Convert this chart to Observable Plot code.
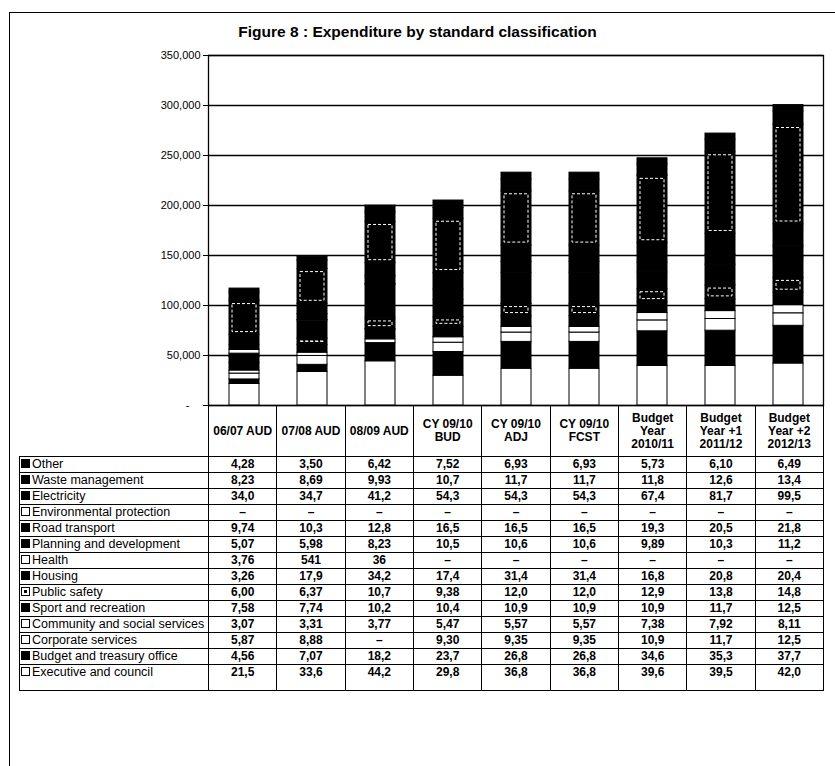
<!DOCTYPE html>
<html>
<head>
<meta charset="utf-8">
<script src="https://cdn.jsdelivr.net/npm/d3@7"></script>
<script src="https://cdn.jsdelivr.net/npm/@observablehq/plot@0.6"></script>
<style>
  html, body { margin: 0; padding: 0; background: #fff; }
  #page { position: relative; width: 835px; height: 766px; overflow: hidden; font-family: "Liberation Sans", Arial, sans-serif; color: #000; }
  .hline { position: absolute; background: #000; }
  #title { position: absolute; left: 0; width: 835px; top: 23px; text-align: center; font-weight: bold; font-size: 15.5px; line-height: 18px; }
  #chart { position: absolute; left: 0; top: 0; }
  #tbl { position: absolute; left: 19px; top: 405px; border-collapse: collapse; table-layout: fixed; font-size: 12px; }
  #tbl td { border: 1px solid #000; padding: 0; text-align: center; vertical-align: top; line-height: 15px; height: 15px; white-space: nowrap; overflow: hidden; font-weight: bold; }
  #tbl td.lab { text-align: left; padding-left: 1px; font-weight: normal; font-size: 12.5px; }
  #tbl tr.head td { height: 50px; vertical-align: middle; line-height: 13px; white-space: pre-line; font-weight: bold; }
  #tbl tr.head td.blank { border-top: none; border-left: none; border-bottom: 1px solid #000; }
  #tbl tr.last td { height: 25px; }
  .ico { display: inline-block; width: 7px; height: 7px; border: 1px solid #000; margin-right: 2px; vertical-align: 0px; box-sizing: content-box; position: relative; }
  .ico.dark { background: #000; }
  .ico.light { background: #fff; }
  .ico.pat { background: #fff; }
  .ico.pat::after { content: ""; position: absolute; left: 2px; top: 2px; width: 3px; height: 3px; background: #000; }
</style>
</head>
<body>
<div id="page">
  <div class="hline" style="left:9px; top:12px; width:826px; height:1px;"></div>
  <div class="hline" style="left:9px; top:12px; width:1px; height:754px;"></div>
  <div id="title">Figure 8 : Expenditure by standard classification</div>
  <div id="chart"></div>
</div>
<script>
// Periods (columns)
const periods = ["06/07 AUD", "07/08 AUD", "08/09 AUD", "CY 09/10\nBUD", "CY 09/10\nADJ", "CY 09/10\nFCST", "Budget\nYear\n2010/11", "Budget\nYear +1\n2011/12", "Budget\nYear +2\n2012/13"];

// Series names (table order, top of stack first)
const seriesNames = ["Other", "Waste management", "Electricity", "Environmental protection", "Road transport", "Planning and development", "Health", "Housing", "Public safety", "Sport and recreation", "Community and social services", "Corporate services", "Budget and treasury office", "Executive and council"];

// Values (R million), null = "–"
const other         = [4.28, 3.50, 6.42, 7.52, 6.93, 6.93, 5.73, 6.10, 6.49];
const waste         = [8.23, 8.69, 9.93, 10.7, 11.7, 11.7, 11.8, 12.6, 13.4];
const electricity   = [34.0, 34.7, 41.2, 54.3, 54.3, 54.3, 67.4, 81.7, 99.5];
const environmental = [null, null, null, null, null, null, null, null, null];
const road          = [9.74, 10.3, 12.8, 16.5, 16.5, 16.5, 19.3, 20.5, 21.8];
const planning      = [5.07, 5.98, 8.23, 10.5, 10.6, 10.6, 9.89, 10.3, 11.2];
const health        = [3.76, 0.541, 0.036, null, null, null, null, null, null];
const housing       = [3.26, 17.9, 34.2, 17.4, 31.4, 31.4, 16.8, 20.8, 20.4];
const publicSafety  = [6.00, 6.37, 10.7, 9.38, 12.0, 12.0, 12.9, 13.8, 14.8];
const sport         = [7.58, 7.74, 10.2, 10.4, 10.9, 10.9, 10.9, 11.7, 12.5];
const community     = [3.07, 3.31, 3.77, 5.47, 5.57, 5.57, 7.38, 7.92, 8.11];
const corporate     = [5.87, 8.88, null, 9.30, 9.35, 9.35, 10.9, 11.7, 12.5];
const budgetTreas   = [4.56, 7.07, 18.2, 23.7, 26.8, 26.8, 34.6, 35.3, 37.7];
const executive     = [21.5, 33.6, 44.2, 29.8, 36.8, 36.8, 39.6, 39.5, 42.0];

const seriesValues = [other, waste, electricity, environmental, road, planning, health, housing, publicSafety, sport, community, corporate, budgetTreas, executive];

// Swatch kind per series (same order)
const swatch = ["dark", "dark", "dark", "light", "dark", "dark", "light", "dark", "pat", "dark", "light", "light", "dark", "light"];
const dashedSeries = ["Electricity", "Public safety"];

// Y axis ticks
const yTicks = [0, 50000, 100000, 150000, 200000, 250000, 300000, 350000];

// Long-format rows, bottom of stack first
const rows = [];
for (let s = seriesNames.length - 1; s >= 0; --s) {
  periods.forEach((p, i) => {
    const v = seriesValues[s][i];
    if (v != null) rows.push({period: p, series: seriesNames[s], value: v * 1000});
  });
}

const fills = swatch.map(k => k === "light" ? "white" : "black");

const chart = Plot.plot({
  width: 835,
  height: 415,
  marginLeft: 208,
  marginRight: 12,
  marginTop: 55,
  marginBottom: 10,
  style: {fontFamily: "'Liberation Sans', Arial, sans-serif", color: "#000", background: "transparent"},
  x: {domain: periods, paddingInner: 0.56, paddingOuter: 0.28, axis: null},
  y: {domain: [0, 350000], axis: null},
  color: {domain: seriesNames, range: fills},
  marks: [
    Plot.gridY(yTicks, {stroke: "#000", strokeOpacity: 1, strokeWidth: 1.3}),
    Plot.axisY({ticks: yTicks, tickSize: 5, tickPadding: 3, fontSize: 11, label: null,
      tickFormat: d => d === 0 ? "-\u2002\u2002" : d3.format(",")(d), stroke: "#000"}),
    Plot.barY(rows, Plot.stackY({x: "period", y: "value", fill: "series", stroke: "#000", strokeWidth: 1, order: null})),
    Plot.barY(rows, Plot.filter(d => dashedSeries.includes(d.series),
      Plot.stackY({x: "period", y: "value", inset: 3, fill: "none", stroke: "#fff", strokeWidth: 1, strokeDasharray: "3,2", order: null}))),
    Plot.frame({stroke: "#000", strokeWidth: 1.3})
  ]
});
document.getElementById("chart").appendChild(chart);

// Data table below the chart
const fmt = v => v == null ? "\u2013" : (v < 1 ? String(Math.round(v * 1000)) : d3.format(".3r")(v).replace(".", ","));
const table = document.createElement("table");
table.id = "tbl";
const colgroup = document.createElement("colgroup");
const c0 = document.createElement("col"); c0.style.width = "189px"; colgroup.appendChild(c0);
periods.forEach(() => { const c = document.createElement("col"); c.style.width = (615 / periods.length) + "px"; colgroup.appendChild(c); });
table.appendChild(colgroup);
const head = document.createElement("tr"); head.className = "head";
const hb = document.createElement("td"); hb.className = "blank"; head.appendChild(hb);
periods.forEach(p => { const td = document.createElement("td"); td.textContent = p; head.appendChild(td); });
table.appendChild(head);
seriesNames.forEach((name, s) => {
  const tr = document.createElement("tr");
  if (s === seriesNames.length - 1) tr.className = "last";
  const lab = document.createElement("td"); lab.className = "lab";
  const ico = document.createElement("span"); ico.className = "ico " + swatch[s];
  lab.appendChild(ico);
  lab.appendChild(document.createTextNode(name));
  tr.appendChild(lab);
  seriesValues[s].forEach(v => { const td = document.createElement("td"); td.textContent = fmt(v); tr.appendChild(td); });
  table.appendChild(tr);
});
document.getElementById("page").appendChild(table);
</script>
</body>
</html>
